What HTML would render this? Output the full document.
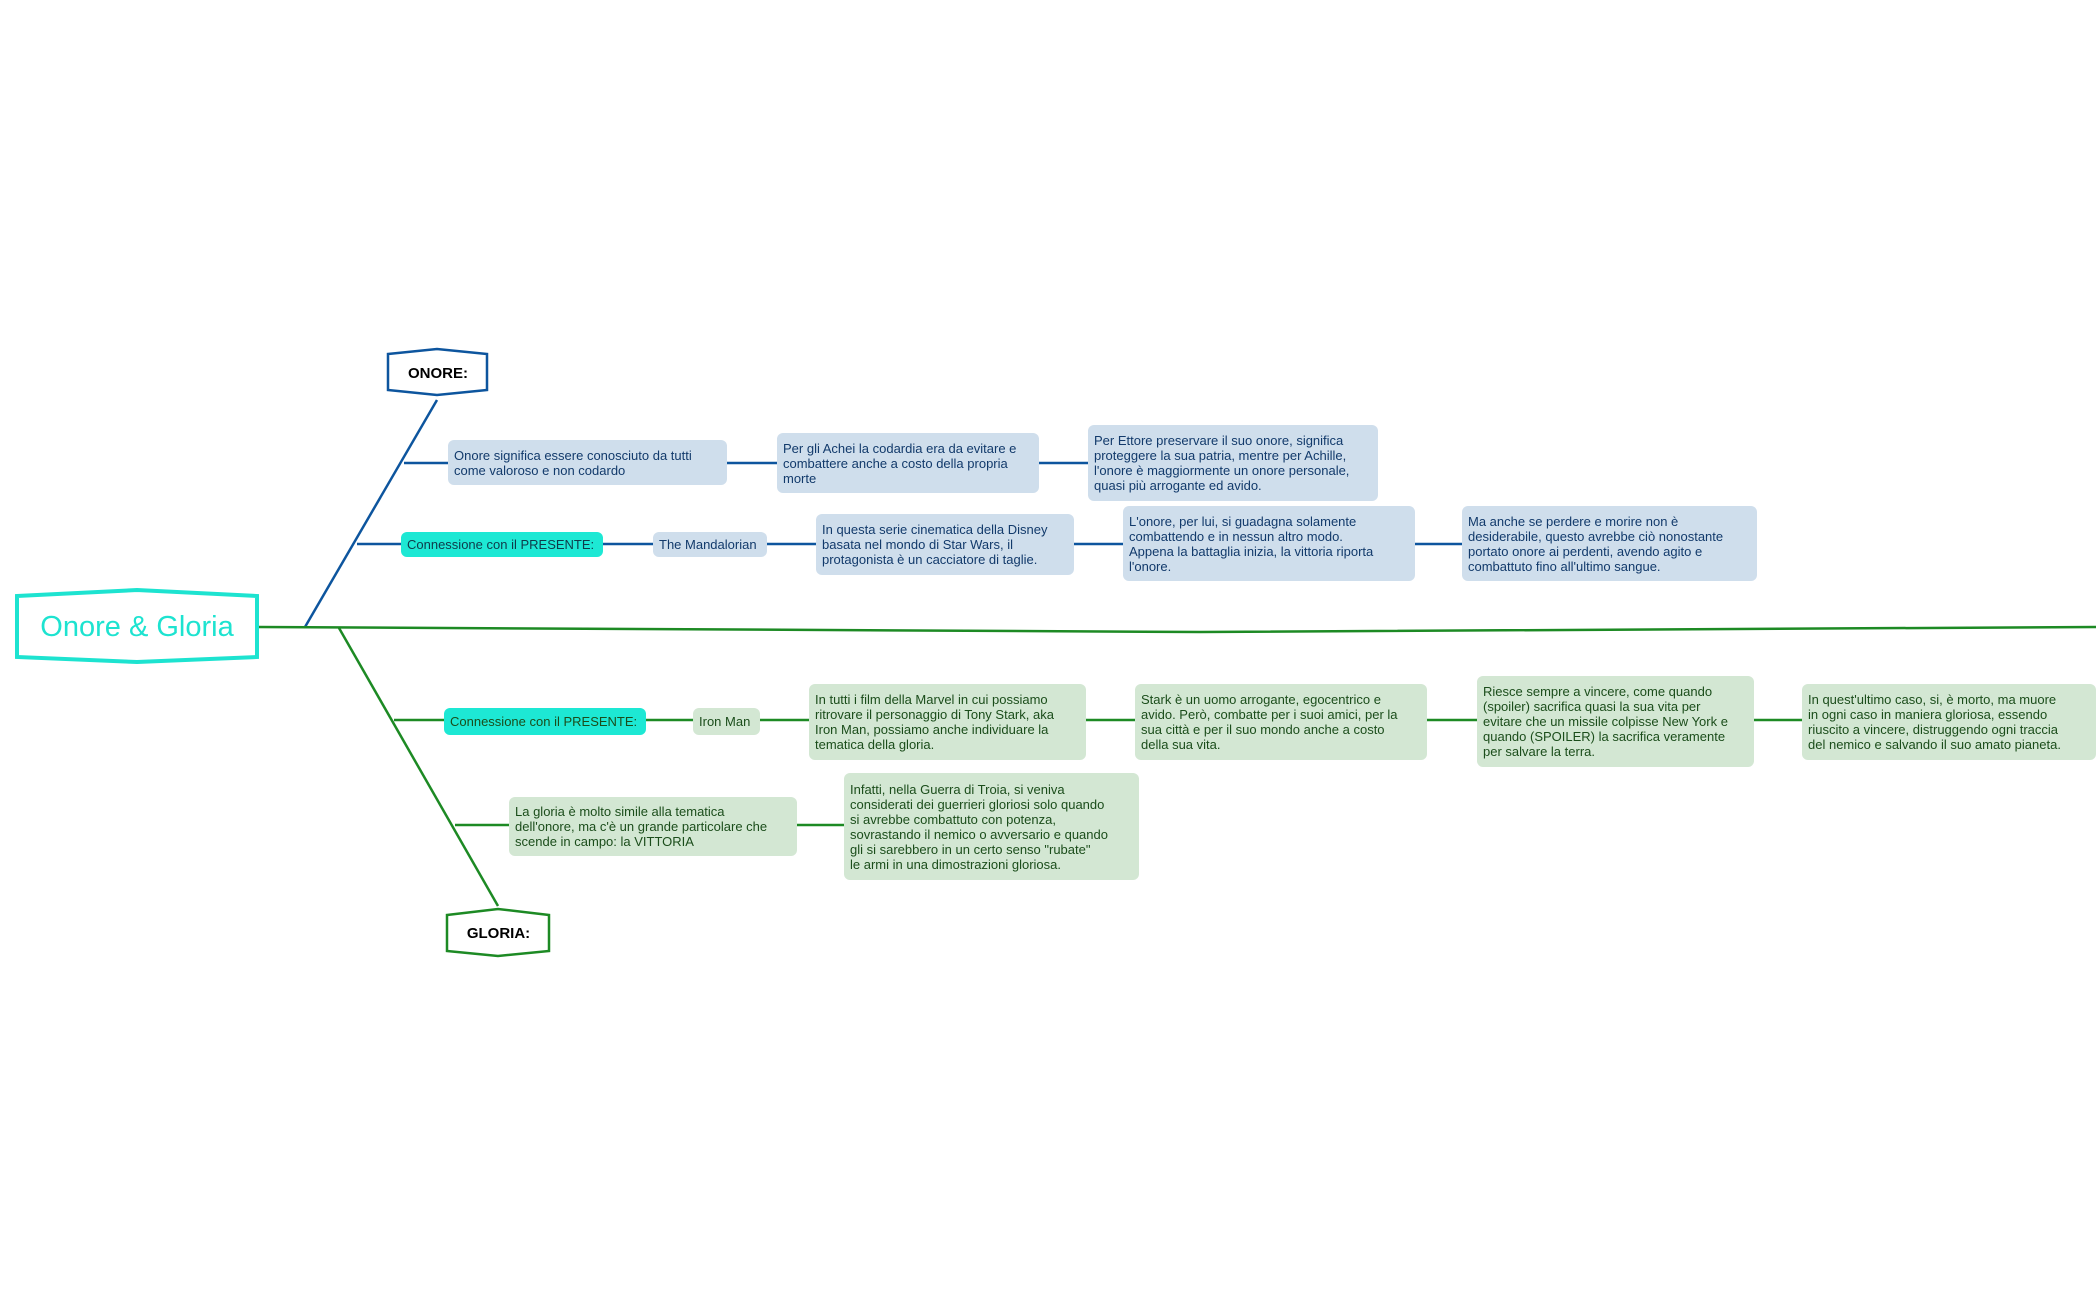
<!DOCTYPE html>
<html><head><meta charset="utf-8"><style>
body{margin:0;width:2100px;height:1299px;background:#fff;position:relative;overflow:hidden;font-family:"Liberation Sans",sans-serif}
.n{position:absolute;box-sizing:border-box;font-size:13px;line-height:15px;padding:0 6px;display:flex;align-items:center;white-space:pre;border-radius:6px}
.b{background:#cfdeec;color:#123a6b}
.g{background:#d3e7d3;color:#1b4d1b}
.c{background:#1de8d4;color:#0f3b4a}
.h{position:absolute;box-sizing:border-box;background:#fff;display:flex;align-items:center;justify-content:center;font-weight:bold;font-size:15px}
svg{position:absolute;left:0;top:0}
</style></head><body>
<svg width="2100" height="1299">
<g stroke="#0d559e" stroke-width="2.5" fill="none">
<line x1="305" y1="627" x2="437" y2="400"/>
<line x1="404" y1="463" x2="448" y2="463"/>
<line x1="727" y1="463" x2="777" y2="463"/>
<line x1="1039" y1="463" x2="1088" y2="463"/>
<line x1="357" y1="544" x2="401" y2="544"/>
<line x1="603" y1="544" x2="653" y2="544"/>
<line x1="767" y1="544" x2="816" y2="544"/>
<line x1="1074" y1="544" x2="1123" y2="544"/>
<line x1="1415" y1="544" x2="1462" y2="544"/>
</g>
<g stroke="#1d8a24" stroke-width="2.5" fill="none">
<path d="M258 627 L1200 632 L2096 627"/>
<line x1="339" y1="628" x2="498" y2="906"/>
<line x1="394" y1="720" x2="444" y2="720"/>
<line x1="646" y1="720" x2="693" y2="720"/>
<line x1="760" y1="720" x2="809" y2="720"/>
<line x1="1086" y1="720" x2="1135" y2="720"/>
<line x1="1427" y1="720" x2="1477" y2="720"/>
<line x1="1754" y1="720" x2="1802" y2="720"/>
<line x1="455" y1="825" x2="509" y2="825"/>
<line x1="797" y1="825" x2="844" y2="825"/>
</g>
<path d="M17 596 L137 590 L257 596 L257 657 L137 662 L17 657 Z" fill="#fff" stroke="#1de3d0" stroke-width="4"/>
<path d="M388 354 L437 349 L487 354 L487 390 L437 395 L388 390 Z" fill="#fff" stroke="#0d559e" stroke-width="2.5"/>
<path d="M447 915 L498 909 L549 915 L549 951 L498 956 L447 951 Z" fill="#fff" stroke="#1d8a24" stroke-width="2.5"/>
</svg>
<div class="h" style="left:17px;top:596px;width:240px;height:62px;background:none;color:#1de3d0;font-size:29px;font-weight:normal">Onore &amp; Gloria</div>
<div class="h" style="left:390px;top:356px;width:96px;height:34px;background:none">ONORE:</div>
<div class="h" style="left:449px;top:916px;width:99px;height:34px;background:none">GLORIA:</div>

<div class="n b" style="left:448px;top:440px;width:279px;height:45px">Onore significa essere conosciuto da tutti
come valoroso e non codardo</div>
<div class="n b" style="left:777px;top:433px;width:262px;height:60px">Per gli Achei la codardia era da evitare e
combattere anche a costo della propria
morte</div>
<div class="n b" style="left:1088px;top:425px;width:290px;height:76px">Per Ettore preservare il suo onore, significa
proteggere la sua patria, mentre per Achille,
l'onore è maggiormente un onore personale,
quasi più arrogante ed avido.</div>
<div class="n c" style="left:401px;top:532px;width:202px;height:25px">Connessione con il PRESENTE:</div>
<div class="n b" style="left:653px;top:532px;width:114px;height:25px">The Mandalorian</div>
<div class="n b" style="left:816px;top:514px;width:258px;height:61px">In questa serie cinematica della Disney
basata nel mondo di Star Wars, il
protagonista è un cacciatore di taglie.</div>
<div class="n b" style="left:1123px;top:506px;width:292px;height:75px">L'onore, per lui, si guadagna solamente
combattendo e in nessun altro modo.
Appena la battaglia inizia, la vittoria riporta
l'onore.</div>
<div class="n b" style="left:1462px;top:506px;width:295px;height:75px">Ma anche se perdere e morire non è
desiderabile, questo avrebbe ciò nonostante
portato onore ai perdenti, avendo agito e
combattuto fino all'ultimo sangue.</div>

<div class="n c" style="left:444px;top:708px;width:202px;height:27px;color:#1b4d1b">Connessione con il PRESENTE:</div>
<div class="n g" style="left:693px;top:708px;width:67px;height:27px">Iron Man</div>
<div class="n g" style="left:809px;top:684px;width:277px;height:76px">In tutti i film della Marvel in cui possiamo
ritrovare il personaggio di Tony Stark, aka
Iron Man, possiamo anche individuare la
tematica della gloria.</div>
<div class="n g" style="left:1135px;top:684px;width:292px;height:76px">Stark è un uomo arrogante, egocentrico e
avido. Però, combatte per i suoi amici, per la
sua città e per il suo mondo anche a costo
della sua vita.</div>
<div class="n g" style="left:1477px;top:676px;width:277px;height:91px">Riesce sempre a vincere, come quando
(spoiler) sacrifica quasi la sua vita per
evitare che un missile colpisse New York e
quando (SPOILER) la sacrifica veramente
per salvare la terra.</div>
<div class="n g" style="left:1802px;top:684px;width:294px;height:76px">In quest'ultimo caso, si, è morto, ma muore
in ogni caso in maniera gloriosa, essendo
riuscito a vincere, distruggendo ogni traccia
del nemico e salvando il suo amato pianeta.</div>
<div class="n g" style="left:509px;top:797px;width:288px;height:59px">La gloria è molto simile alla tematica
dell'onore, ma c'è un grande particolare che
scende in campo: la VITTORIA</div>
<div class="n g" style="left:844px;top:773px;width:295px;height:107px">Infatti, nella Guerra di Troia, si veniva
considerati dei guerrieri gloriosi solo quando
si avrebbe combattuto con potenza,
sovrastando il nemico o avversario e quando
gli si sarebbero in un certo senso "rubate"
le armi in una dimostrazioni gloriosa.</div>
</body></html>
